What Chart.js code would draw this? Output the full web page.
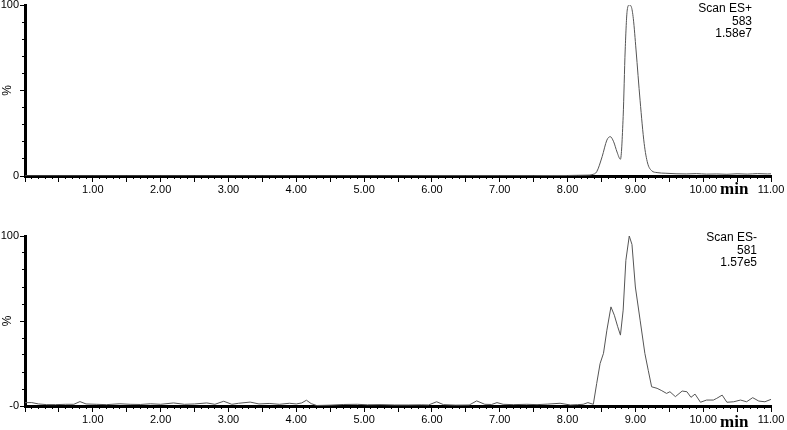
<!DOCTYPE html>
<html>
<head>
<meta charset="utf-8">
<script src="https://cdn.jsdelivr.net/npm/chart.js@4.4.1/dist/chart.umd.min.js"></script>
<style>
  html, body { margin: 0; padding: 0; background: #fff; }
  body { width: 787px; height: 430px; position: relative; overflow: hidden; font-family: "Liberation Sans", Arial, sans-serif; }
  .panel { position: absolute; left: 0; width: 787px; height: 196px; }
  .note  { position: absolute; font-size: 12px; line-height: 12.5px; text-align: right; color: #000; }
  .unit  { position: absolute; font-family: "Liberation Serif", "Times New Roman", serif; font-weight: bold; font-size: 17px; color: #000; }
</style>
</head>
<body>
<div class="panel" style="top:0"><canvas id="posChart"></canvas></div>
<div class="panel" style="top:230px"><canvas id="negChart"></canvas></div>
<div class="note" style="right:35px;top:2px">Scan ES+<br>583<br>1.58e7</div>
<div class="note" style="right:30px;top:231px">Scan ES-<br>581<br>1.57e5</div>
<div class="unit" style="left:720px;top:179px">min</div>
<div class="unit" style="left:720px;top:412px">min</div>
<script>
/* chromatogram traces, % of base peak vs retention time (min) */
const posTime = [0.00, 0.50, 1.00, 1.50, 2.00, 2.50, 3.00, 3.50, 4.00, 4.50, 5.00, 5.50, 6.00, 6.50, 7.00, 7.50,
                 7.80, 8.00, 8.15, 8.30, 8.36, 8.43, 8.51, 8.58, 8.63, 8.68, 8.73, 8.78,
                 8.82, 8.85, 8.88, 8.91, 8.94, 8.97, 9.01, 9.07, 9.13, 9.18, 9.24, 9.32,
                 9.45, 9.60, 9.75, 9.90, 10.05, 10.20, 10.35, 10.50, 10.65, 10.80, 10.95, 11.00];
const posPct  = [0.1, 0.1, 0.1, 0.1, 0.1, 0.1, 0.1, 0.1, 0.1, 0.1, 0.1, 0.1, 0.2, 0.2, 0.2, 0.2,
                 0.3, 0.3, 0.4, 0.5, 0.8, 2.5, 11.3, 21.0, 23.0, 20.0, 14.0, 9.8,
                 34.7, 73.7, 97.0, 100, 99.0, 92.0, 73.7, 44.0, 19.0, 7.6, 3.1, 2.0,
                 1.6, 1.3, 1.2, 1.4, 1.1, 1.2, 1.0, 1.3, 1.1, 1.4, 1.2, 1.3];

const negTime = [0.00, 0.10, 0.20, 0.32, 0.45, 0.60, 0.72, 0.81, 0.90, 1.05, 1.20, 1.40, 1.55, 1.70, 1.85,
                 2.00, 2.19, 2.35, 2.50, 2.68, 2.80, 2.93, 3.05, 3.15, 3.32, 3.45, 3.60, 3.75, 3.90,
                 4.00, 4.08, 4.15, 4.22, 4.30, 4.50, 4.70, 4.90, 5.05, 5.25, 5.45, 5.65, 5.85, 5.95,
                 6.07, 6.17, 6.35, 6.55, 6.66, 6.78, 6.88, 6.96, 7.05, 7.20, 7.40, 7.55, 7.70, 7.89,
                 8.04, 8.15, 8.23, 8.30, 8.38, 8.43, 8.48, 8.53, 8.58, 8.64, 8.69, 8.74, 8.78,
                 8.82, 8.86, 8.91, 8.95, 9.00, 9.07, 9.14, 9.19, 9.24, 9.32, 9.39, 9.46, 9.51,
                 9.59, 9.69, 9.76, 9.82, 9.88, 9.96, 10.05, 10.15, 10.20, 10.28, 10.35, 10.45,
                 10.55, 10.64, 10.73, 10.82, 10.91, 11.00];
const negPct  = [2.0, 2.0, 1.2, 0.8, 0.8, 1.0, 1.0, 2.6, 1.2, 1.0, 0.8, 1.3, 1.0, 0.9, 1.3,
                 1.0, 1.8, 1.0, 1.2, 1.8, 1.0, 2.8, 1.0, 1.6, 2.3, 1.2, 1.5, 1.0, 1.6,
                 1.2, 1.8, 3.4, 1.4, 0.3, 0.5, 0.9, 1.0, 0.7, 0.8, 0.6, 0.6, 0.7, 0.6,
                 2.5, 0.8, 0.5, 0.6, 3.0, 1.0, 0.9, 2.0, 1.0, 0.8, 1.0, 0.8, 1.1, 1.6,
                 0.6, 0.8, 1.0, 2.0, 1.0, 13.3, 25.0, 31.0, 44.6, 58.3, 53.4, 46.6, 41.7,
                 56.4, 85.7, 100, 95.0, 70.0, 50.5, 31.0, 21.0, 11.3, 10.4, 9.0, 7.4, 8.4,
                 5.5, 8.8, 8.4, 5.1, 7.0, 2.2, 3.5, 3.5, 4.5, 6.4, 2.2, 2.5,
                 3.5, 2.5, 4.9, 2.9, 2.5, 3.9];

const tickFont = { family: '"Liberation Sans", Arial, sans-serif', size: 11 };

function fitY(w) {
  return s => { s.width = w; s.paddingTop = 0; s.paddingBottom = 0; };
}
function fitX(h) {
  return s => { s.height = h; s.paddingLeft = 0; s.paddingRight = 0; };
}

function makeChart(id, times, pcts, zeroLabel, padTop, smooth) {
  const pts = times.map((t, i) => ({ x: t, y: pcts[i] }));
  return new Chart(document.getElementById(id), {
    type: 'line',
    data: {
      datasets: [{
        data: pts, xAxisID: 'x', yAxisID: 'y',
        borderColor: '#555', borderWidth: 1, pointRadius: 0, fill: false,
        tension: smooth ? 0.4 : 0, cubicInterpolationMode: smooth ? 'monotone' : 'default',
      }],
    },
    options: {
      responsive: true, maintainAspectRatio: false, animation: false,
      layout: { padding: { top: padTop, right: 16, left: 0, bottom: 0 } },
      plugins: { legend: { display: false }, tooltip: { enabled: false } },
      scales: {
        xMinor: {
          type: 'linear', position: 'bottom', min: 0, max: 11, weight: 0,
          afterFit: fitX(0),
          border: { display: false },
          grid: { drawOnChartArea: false, tickLength: 3, tickColor: '#000', tickWidth: 1 },
          ticks: { display: false, stepSize: 0.1 },
        },
        x: {
          type: 'linear', position: 'bottom', min: 0, max: 11, weight: 1,
          afterFit: fitX(20),
          border: { display: true, color: '#000', width: 3 },
          grid: { drawOnChartArea: false, tickLength: 6, tickColor: '#000', tickWidth: 1 },
          ticks: {
            stepSize: 0.5, autoSkip: false, maxRotation: 0, padding: 1, color: '#000', font: tickFont,
            callback: v => (v > 0 && Math.abs(v - Math.round(v)) < 1e-6) ? v.toFixed(2) : '',
          },
        },
        yMinor: {
          type: 'linear', position: 'left', min: 0, max: 100, weight: 0,
          afterFit: fitY(0),
          border: { display: false },
          grid: { drawOnChartArea: false, tickLength: 3, tickColor: '#000', tickWidth: 1 },
          ticks: { display: false, stepSize: 10 },
        },
        y: {
          type: 'linear', position: 'left', min: 0, max: 100, weight: 1,
          afterFit: fitY(25),
          border: { display: true, color: '#000', width: 3 },
          grid: { drawOnChartArea: false, tickLength: 5, tickColor: '#000', tickWidth: 1 },
          title: { display: true, text: '%', color: '#000', font: { ...tickFont, size: 12 }, padding: 0 },
          ticks: {
            stepSize: 50, padding: 1, color: '#000', font: tickFont,
            callback: v => v === 100 ? '100' : (v === 0 ? zeroLabel : ''),
          },
        },
      },
    },
  });
}

makeChart('posChart', posTime, posPct, '0', 5, true);
makeChart('negChart', negTime, negPct, '-0', 6, false);
</script>
</body>
</html>
